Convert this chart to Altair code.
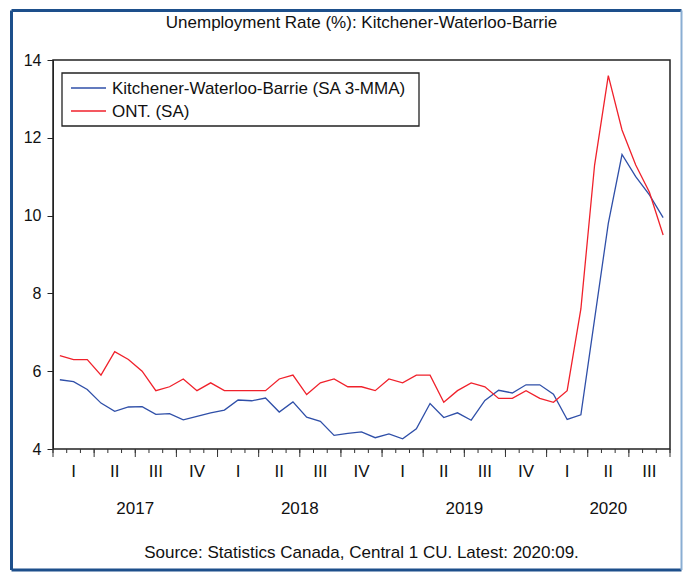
import altair as alt
import pandas as pd

# ---------------- data ----------------
months = [f"{y}-{m:02d}" for y in (2017, 2018, 2019, 2020) for m in range(1, 13)][:45]
series_names = ["Kitchener-Waterloo-Barrie (SA 3-MMA)", "ONT. (SA)"]
series_colors = ["#2f4fa8", "#f0212b"]

kwb = [5.78, 5.73, 5.53, 5.18, 4.97, 5.08, 5.09, 4.89, 4.91, 4.75, 4.84, 4.93,
       5.00, 5.26, 5.24, 5.31, 4.95, 5.21, 4.82, 4.71, 4.35, 4.40, 4.44, 4.29,
       4.39, 4.26, 4.52, 5.17, 4.81, 4.93, 4.74, 5.25, 5.51, 5.44, 5.65, 5.65,
       5.41, 4.76, 4.88, 7.34, 9.80, 11.57, 11.00, 10.53, 9.95]
ont = [6.4, 6.3, 6.3, 5.9, 6.5, 6.3, 6.0, 5.5, 5.6, 5.8, 5.5, 5.7,
       5.5, 5.5, 5.5, 5.5, 5.8, 5.9, 5.4, 5.7, 5.8, 5.6, 5.6, 5.5,
       5.8, 5.7, 5.9, 5.9, 5.2, 5.5, 5.7, 5.6, 5.3, 5.3, 5.5, 5.3,
       5.2, 5.5, 7.6, 11.3, 13.6, 12.2, 11.3, 10.6, 9.5]

y_ticks = [4, 6, 8, 10, 12, 14]
quarter_labels = ["I", "II", "III", "IV"] * 3 + ["I", "II", "III"]
year_labels = ["2017", "2018", "2019", "2020"]
year_months = [12, 12, 12, 9]

title_text = "Unemployment Rate (%): Kitchener-Waterloo-Barrie"
source_text = "Source: Statistics Canada, Central 1 CU. Latest: 2020:09."

FONT = "Liberation Sans"
W, H = 617, 389

# ---------------- tables ----------------
n = len(months)
long_df = pd.DataFrame({
    "k": list(range(n)) * 2,
    "month": months * 2,
    "value": kwb + ont,
    "series": [series_names[0]] * n + [series_names[1]] * n,
})
minor_df = pd.DataFrame({"b": [i - 0.5 for i in range(n + 1)]})
major_df = pd.DataFrame({"b": [i - 0.5 for i in range(0, n + 1, 3)]})
quarter_df = pd.DataFrame({"k": [1 + 3 * i for i in range(len(quarter_labels))],
                           "label": quarter_labels})
starts, s = [], 0
for c in year_months:
    starts.append(s - 0.5 + c / 2)
    s += c
year_df = pd.DataFrame({"k": starts, "label": year_labels})
one = pd.DataFrame({"a": [0]})
legend_df = pd.DataFrame({"series": series_names})

xscale = alt.Scale(domain=[-0.5, n - 0.5], nice=False, zero=False)
cscale = alt.Scale(domain=series_names, range=series_colors)

lines = alt.Chart(long_df).mark_line(strokeWidth=1.3).encode(
    x=alt.X("k:Q", scale=xscale, axis=None),
    y=alt.Y("value:Q", scale=alt.Scale(domain=[4, 14], nice=False, zero=False),
            axis=alt.Axis(values=y_ticks, tickSize=6, labelPadding=6, labelFontSize=16,
                          labelFont=FONT, labelColor="#111", tickColor="#222",
                          domainColor="#222", grid=False, title=None)),
    color=alt.Color("series:N", scale=cscale, legend=None),
    order="k:Q",
)

minor_ticks = alt.Chart(minor_df).mark_rule(color="#333", strokeWidth=1).encode(
    x=alt.X("b:Q", scale=xscale, axis=None), y=alt.value(H), y2=alt.value(H + 4))
major_ticks = alt.Chart(major_df).mark_rule(color="#333", strokeWidth=1).encode(
    x=alt.X("b:Q", scale=xscale, axis=None), y=alt.value(H), y2=alt.value(H + 8))

q_text = alt.Chart(quarter_df).mark_text(font=FONT, fontSize=17, baseline="alphabetic",
                                          align="center", color="#111").encode(
    x=alt.X("k:Q", scale=xscale, axis=None), y=alt.value(417), text="label:N")
y_text = alt.Chart(year_df).mark_text(font=FONT, fontSize=17, baseline="alphabetic",
                                       align="center", color="#111").encode(
    x=alt.X("k:Q", scale=xscale, axis=None), y=alt.value(454), text="label:N")

title = alt.Chart(one).mark_text(font=FONT, fontSize=17, baseline="alphabetic",
                                 align="center", color="#111", text=title_text).encode(
    x=alt.value(W / 2), y=alt.value(-32))
source = alt.Chart(one).mark_text(font=FONT, fontSize=17, baseline="alphabetic",
                                  align="center", color="#111", text=source_text).encode(
    x=alt.value(W / 2), y=alt.value(498))

# legend (manual)
leg_box = alt.Chart(one).mark_rect(fill="white", stroke="#222", strokeWidth=1.3).encode(
    x=alt.value(9), x2=alt.value(366), y=alt.value(13), y2=alt.value(66))
leg_layers = []
for i, name in enumerate(series_names):
    yy = 28 + 23 * i
    base = alt.Chart(legend_df).transform_filter(alt.datum.series == name)
    leg_layers.append(base.mark_rule(strokeWidth=1.3).encode(
        x=alt.value(18), x2=alt.value(53), y=alt.value(yy),
        color=alt.Color("series:N", scale=cscale, legend=None)))
    leg_layers.append(base.mark_text(font=FONT, fontSize=17, baseline="alphabetic",
                                     align="left", color="#111").encode(
        x=alt.value(59), y=alt.value(yy + 6), text="series:N"))

# outer border
navy = "#1d4f8b"
b_left, b_top = -41.5, -49.5
b_right, b_bottom = W + 11.5, H + 121
border = [
    alt.Chart(one).mark_rule(color=navy, strokeWidth=3).encode(
        x=alt.value(b_left), x2=alt.value(b_right), y=alt.value(b_top)),
    alt.Chart(one).mark_rule(color=navy, strokeWidth=3).encode(
        x=alt.value(b_left), x2=alt.value(b_right), y=alt.value(b_bottom)),
    alt.Chart(one).mark_rule(color=navy, strokeWidth=3).encode(
        x=alt.value(b_left), y=alt.value(b_top), y2=alt.value(b_bottom)),
    alt.Chart(one).mark_rule(color="#8aaed3", strokeWidth=2).encode(
        x=alt.value(b_right), y=alt.value(b_top), y2=alt.value(b_bottom)),
]

chart = alt.layer(
    lines, minor_ticks, major_ticks, q_text, y_text, title, source,
    leg_box, *leg_layers, *border
).properties(
    width=W, height=H,
    padding={"left": 45, "top": 52, "right": 13, "bottom": 123},
    autosize=alt.AutoSizeParams(type="none"),
    background="white",
).configure_view(stroke="#222", strokeWidth=1.5)

chart.save("out.html", embed_options={"renderer": "svg", "actions": False})
